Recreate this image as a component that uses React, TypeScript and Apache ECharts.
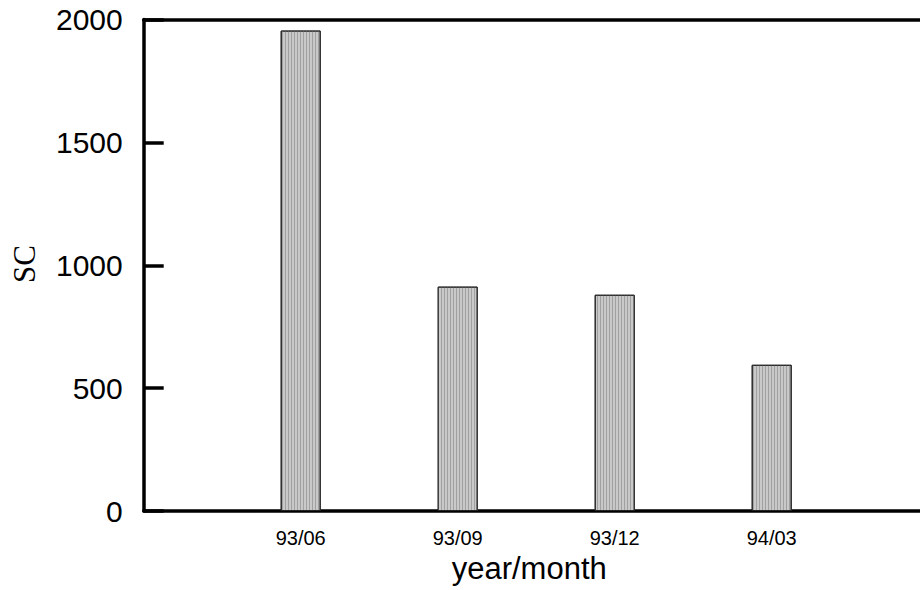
import React, { useEffect, useRef } from "react";
import * as echarts from "echarts";

const categories = ["", "93/06", "93/09", "93/12", "94/03", ""];
const scValues: (number | null)[] = [null, 1955, 913, 880, 595, null];
const yTicks = { min: 0, max: 2000, interval: 500 };
const yTitle = "SC";

export default function App() {
  const ref = useRef<HTMLDivElement>(null);
  useEffect(() => {
    if (!ref.current) return;
    const chart = echarts.init(ref.current, null, { renderer: "svg" });
    chart.setOption({
      animation: false,
      backgroundColor: "#ffffff",
      grid: {
        left: 143.7,
        top: 19.5,
        right: 11.3,
        bottom: 79,
        containLabel: false,
        outerBoundsMode: "none",
      },
      graphic: [
        {
          type: "text",
          x: 24,
          y: 264,
          rotation: Math.PI / 2,
          style: {
            text: yTitle,
            font: "normal 31px \"Times New Roman\", \"Liberation Serif\", \"DejaVu Serif\", serif",
            fill: "#000",
            textAlign: "center",
            textVerticalAlign: "middle",
          },
        },
      ],
      xAxis: [
        {
          type: "category",
          data: categories,
          boundaryGap: false,
          axisLine: { show: true, lineStyle: { color: "#000", width: 3.5 } },
          axisTick: { show: false },
          axisLabel: {
            fontFamily: "'Liberation Sans', Arial, sans-serif",
            fontSize: 20,
            color: "#000",
            margin: 17,
            interval: 0,
          },
          splitLine: { show: false },
          name: "year/month",
          nameLocation: "middle",
          nameGap: 40,
          nameTextStyle: {
            fontFamily: "'Liberation Sans', Arial, sans-serif",
            fontSize: 31,
            color: "#000",
            padding: [0, 14, 0, 0],
          },
        },
        {
          type: "category",
          position: "top",
          data: categories,
          boundaryGap: false,
          axisLine: { show: true, lineStyle: { color: "#000", width: 3.5 } },
          axisTick: { show: false },
          axisLabel: { show: false },
        },
      ],
      yAxis: {
        type: "value",
        min: yTicks.min,
        max: yTicks.max,
        interval: yTicks.interval,
        axisLine: { show: true, lineStyle: { color: "#000", width: 3.5 } },
        axisTick: { show: true, inside: true, length: 20, lineStyle: { color: "#000", width: 3.5 } },
        axisLabel: {
          fontFamily: "'Liberation Sans', Arial, sans-serif",
          fontSize: 30,
          color: "#000",
          margin: 21,
          formatter: (v: number) => String(v),
        },
        splitLine: { show: false },
      },
      series: [
        {
          type: "bar",
          data: scValues,
          barWidth: 40,
          itemStyle: {
            color: "#c9c9c9",
            borderColor: "#222",
            borderWidth: 1,
            decal: {
              symbol: "rect",
              symbolSize: 1,
              dashArrayX: [1, 2],
              dashArrayY: [4, 0],
              rotation: 0,
              color: "#a0a0a0",
            },
          },
        },
      ],
    });
    return () => chart.dispose();
  }, []);
  return (
    <div
      ref={ref}
      style={{ position: "fixed", left: 0, top: 0, width: 940, height: 590 }}
    />
  );
}
